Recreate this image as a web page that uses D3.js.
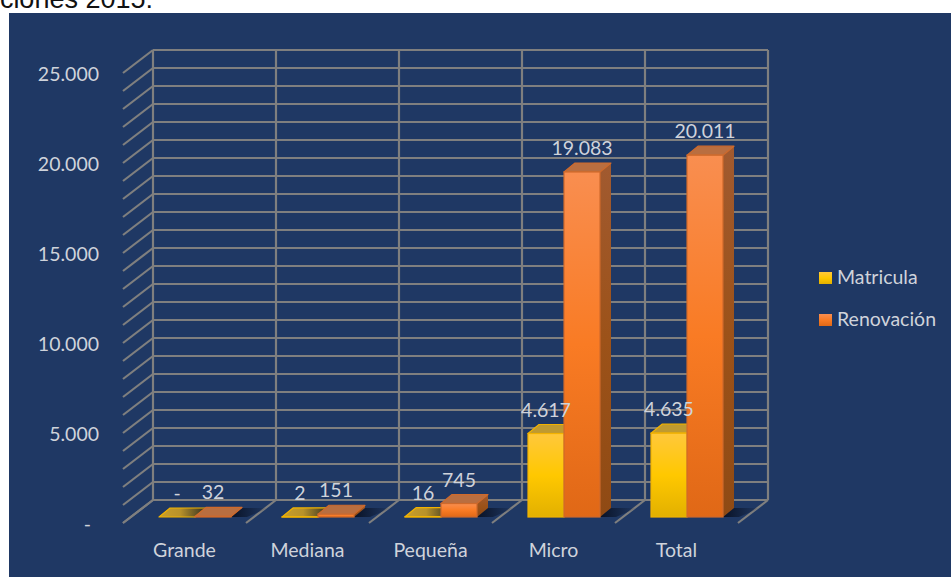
<!DOCTYPE html>
<html>
<head>
<meta charset="utf-8">
<script src="https://cdnjs.cloudflare.com/ajax/libs/d3/7.8.5/d3.min.js"></script>
<style>
  html, body { margin: 0; padding: 0; background: #fff; }
  svg { display: block; }
  text { font-family: Lato, "Open Sans", sans-serif; fill: #cfd3db; }
</style>
</head>
<body>
<svg id="chart" width="951" height="577"></svg>
<script>
const categories = ["Grande", "Mediana", "Pequeña", "Micro", "Total"];
const matricula = [0, 2, 16, 4617, 4635];
const renovacion = [32, 151, 745, 19083, 20011];
const yTicks = [0, 5000, 10000, 15000, 20000, 25000];
const gridValues = d3.range(0, 26000, 1000);
const seriesNames = ["Matricula", "Renovación"];

const svg = d3.select("#chart");
const locale = d3.formatLocale({ decimal: ",", thousands: ".", grouping: [3], currency: ["", ""] });
const fmt = locale.format(",d");
const fmtLabel = v => v === 0 ? "-" : fmt(v);

// 3D box settings
const wall = { left: 153, right: 768, top: 50, bottom: 500 };
const floor = { dx: -30, dy: 23 };
const barDepth = { dx: 11, dy: -9 };
const baseY = 517;

const xWall = d3.scaleBand().domain(categories).range([wall.left, wall.right]);
const xFront = d3.scaleBand().domain(categories).range([wall.left + floor.dx, wall.right + floor.dx]);
const yWall = d3.scaleLinear().domain([0, 25000]).range([wall.bottom, wall.top]);
const yFront = d3.scaleLinear().domain([0, 25000]).range([wall.bottom + floor.dy, wall.top + floor.dy]);
const yBar = d3.scaleLinear().domain([0, 25000]).range([baseY, baseY - 452]);
const xInner = d3.scaleBand().domain(seriesNames).range([0, 72]);
const barOffset = 36;

// Gradients
const defs = svg.append("defs");
function gradient(id, stops, horizontal) {
    const g = defs.append("linearGradient").attr("id", id)
        .attr("x1", 0).attr("y1", 0)
        .attr("x2", horizontal ? 1 : 0).attr("y2", horizontal ? 0 : 1);
    stops.forEach(s => g.append("stop").attr("offset", s[0]).attr("stop-color", s[1]).attr("stop-opacity", s[2] === undefined ? 1 : s[2]));
}
gradient("gradYellow", [[0, "#ffc83c"], [0.5, "#ffc800"], [1, "#e2b000"]]);
gradient("gradOrange", [[0, "#f98e50"], [0.5, "#f97b24"], [1, "#e06816"]]);
gradient("gradSide", [[0, "#a15a30"], [0.5, "#9c5219"], [1, "#8f4a14"]]);
gradient("gradFlat", [[0, "#c99f2a"], [0.45, "#b8922a"], [1, "#2e2d22"]], true);
gradient("gradShadow", [[0, "#081022", 1], [1, "#081022", 0]], true);

// Background panel
svg.append("rect").attr("x", 9).attr("y", 13).attr("width", 942).attr("height", 564).attr("fill", "#1f3864");

// Cut off title above the panel
svg.append("text").attr("x", 153).attr("y", 8).attr("text-anchor", "end")
    .style("font-family", "Liberation Sans, Arial, sans-serif").style("font-size", "27px").style("fill", "#111")
    .text("ciones 2015:");

// Grid ----------
const grid = svg.append("g").attr("stroke", "#7f7f7f").attr("stroke-width", 2.2).attr("fill", "none");
grid.selectAll(".h").data(gridValues).enter().append("line").classed("h", true)
    .attr("x1", wall.left).attr("x2", wall.right)
    .attr("y1", d => yWall(d)).attr("y2", d => yWall(d));
grid.selectAll(".side").data(gridValues).enter().append("line").classed("side", true)
    .attr("x1", wall.left).attr("y1", d => yWall(d))
    .attr("x2", wall.left + floor.dx).attr("y2", d => yFront(d));
const edges = categories.map(c => xWall(c)).concat([wall.right]);
grid.selectAll(".v").data(edges).enter().append("line").classed("v", true)
    .attr("x1", d => d).attr("x2", d => d)
    .attr("y1", wall.top).attr("y2", wall.bottom);
grid.selectAll(".fl").data(edges).enter().append("line").classed("fl", true)
    .attr("x1", d => d).attr("y1", wall.bottom)
    .attr("x2", d => d + floor.dx).attr("y2", wall.bottom + floor.dy);

// Y axis labels
const yAxis = d3.axisLeft(yFront).tickValues(yTicks).tickSize(0).tickPadding(0)
    .tickFormat(d => fmtLabel(d));
const yG = svg.append("g").attr("transform", "translate(99,1)").call(yAxis);
yG.select(".domain").remove();
yG.selectAll("text").style("font-size", "19.5px").style("fill", "#cfd3db")
    .attr("dy", "0.32em")
    .attr("x", d => d === 0 ? -8 : 0);

// Bars ----------
function drawBar(g, x, value, front, side, top, stroke) {
    const w = xInner.bandwidth();
    const yTop = yBar(value);
    const d = barDepth;
    g.append("polygon")
        .attr("points", [[x + w, yTop], [x + w + d.dx, yTop + d.dy], [x + w + d.dx, baseY + d.dy], [x + w, baseY]].join(" "))
        .attr("fill", side);
    g.append("polygon")
        .attr("points", [[x, yTop], [x + d.dx, yTop + d.dy], [x + w + d.dx, yTop + d.dy], [x + w, yTop]].join(" "))
        .attr("fill", top).attr("stroke", stroke).attr("stroke-width", 1.2).attr("stroke-linejoin", "round");
    g.append("rect").attr("x", x).attr("y", yTop).attr("width", w).attr("height", baseY - yTop)
        .attr("fill", front).attr("stroke", stroke).attr("stroke-width", 1.2);
}

categories.forEach((c, i) => {
    const x0 = xFront(c) + barOffset;
    const g = svg.append("g");
    const xY = x0 + xInner(seriesNames[0]);
    const xO = x0 + xInner(seriesNames[1]);
    const w = xInner.bandwidth();
    // floor shadow
    g.append("polygon")
        .attr("points", [[xO + w - 2, baseY], [xO + w + barDepth.dx - 2, baseY + barDepth.dy], [xO + w + barDepth.dx + 26, baseY + barDepth.dy], [xO + w + 16, baseY]].join(" "))
        .attr("fill", "url(#gradShadow)");
    const flatY = matricula[i] < 100;
    drawBar(g, xY, matricula[i], "url(#gradYellow)", "#a8860f", flatY ? "url(#gradFlat)" : "#bf9a30", "#f2b200");
    drawBar(g, xO, renovacion[i], "url(#gradOrange)", "url(#gradSide)", "#b96e40", "#cf6a2c");
});

// Data labels ----------
const labelG = svg.append("g").style("font-size", "19.5px").attr("text-anchor", "middle");
categories.forEach((c, i) => {
    const x0 = xFront(c) + barOffset;
    const w = xInner.bandwidth();
    labelG.append("text").attr("x", x0 + xInner(seriesNames[0]) + w / 2)
        .attr("y", yBar(matricula[i]) - 17).text(fmtLabel(matricula[i]));
    labelG.append("text").attr("x", x0 + xInner(seriesNames[1]) + w / 2)
        .attr("y", yBar(renovacion[i]) - 17).text(fmtLabel(renovacion[i]));
});

// Category labels
svg.append("g").selectAll("text").data(categories).enter().append("text")
    .attr("x", d => xFront(d) + xFront.bandwidth() / 2)
    .attr("y", 557).attr("text-anchor", "middle").style("font-size", "19.5px")
    .text(d => d);

// Legend
const legendY = d3.scalePoint().domain(seriesNames).range([278, 320]);
const legendFill = ["url(#gradYellow)", "url(#gradOrange)"];
const legend = svg.append("g").selectAll("g").data(seriesNames).enter().append("g")
    .attr("transform", d => `translate(819,${legendY(d)})`);
legend.append("rect").attr("x", 0).attr("y", -6).attr("width", 13).attr("height", 12)
    .attr("fill", (d, i) => legendFill[i]);
legend.append("text").attr("x", 18).attr("y", 6).style("font-size", "19.5px").text(d => d);
</script>
</body>
</html>
